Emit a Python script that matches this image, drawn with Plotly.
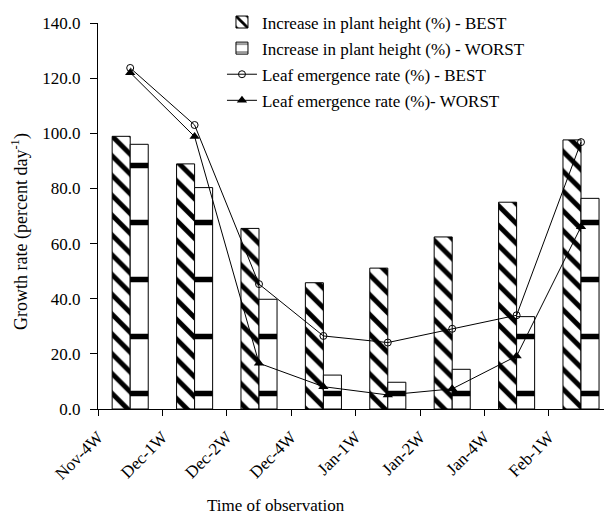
import plotly.graph_objects as go

categories = ["Nov-4W", "Dec-1W", "Dec-2W", "Dec-4W", "Jan-1W", "Jan-2W", "Jan-4W", "Feb-1W"]
height_best = [98.9, 88.9, 65.5, 45.8, 51.1, 62.4, 75.0, 97.6]
height_worst = [96.0, 80.3, 39.8, 12.3, 9.7, 14.4, 33.5, 76.4]
leaf_best = [123.7, 103.0, 45.3, 26.5, 24.1, 29.1, 34.0, 96.8]
leaf_worst = [122.0, 98.8, 16.6, 8.1, 5.1, 7.3, 19.2, 66.1]
y_ticks = [0, 20, 40, 60, 80, 100, 120, 140]

xpos = list(range(len(categories)))
FONT = "Liberation Serif, Times New Roman, serif"

fig = go.Figure()
fig.add_trace(go.Bar(
    x=xpos, y=height_best, name="Increase in plant height (%) - BEST",
    marker=dict(color="white", line=dict(color="black", width=1),
                pattern=dict(shape="\\", fgcolor="black", fgopacity=1, bgcolor="white",
                             size=14, solidity=0.35)),
    legendgroup="a",
))
fig.add_trace(go.Bar(
    x=xpos, y=height_worst, name="Increase in plant height (%) - WORST",
    marker=dict(color="white", line=dict(color="black", width=1),
                pattern=dict(shape="-", fgcolor="black", fgopacity=1, bgcolor="white",
                             size=57, solidity=0.1)),
    legendgroup="b",
))
fig.add_trace(go.Scatter(
    x=xpos, y=leaf_best, name="Leaf emergence rate (%) - BEST", xaxis="x2",
    mode="lines+markers", line=dict(color="black", width=1),
    marker=dict(symbol="circle-open", size=7, color="black", line=dict(width=1)),
    legendgroup="c",
))
fig.add_trace(go.Scatter(
    x=xpos, y=leaf_worst, name="Leaf emergence rate (%)- WORST", xaxis="x2",
    mode="lines+markers", line=dict(color="black", width=1),
    marker=dict(symbol="triangle-up", size=9, color="black"),
    legendgroup="d",
))

xr = [-0.5, 7.357]
fig.update_layout(
    width=604, height=516,
    margin=dict(l=98, r=0, t=23, b=107),
    paper_bgcolor="white", plot_bgcolor="white",
    font=dict(family=FONT, size=17, color="black"),
    barmode="group", bargap=0.44, bargroupgap=0,
    showlegend=True,
    legend=dict(x=0.245, y=1.048, xanchor="left", yanchor="top",
                bgcolor="rgba(0,0,0,0)", itemwidth=30, tracegroupgap=1,
                font=dict(family=FONT, size=17, color="black")),
    xaxis=dict(range=xr, tickvals=[i - 0.5 for i in xpos], showticklabels=False,
               ticks="outside", ticklen=6, tickcolor="black",
               showline=True, linecolor="black", linewidth=1, showgrid=False, zeroline=False),
    xaxis2=dict(range=xr, overlaying="x", anchor="y", side="bottom",
                tickvals=[i - 0.5 for i in xpos], ticktext=categories, tickangle=-45,
                ticks="", showline=False, showgrid=False, zeroline=False,
                ticklabelstandoff=14,
                tickfont=dict(family=FONT, size=17, color="black")),
    yaxis=dict(range=[0, 140], tickvals=y_ticks, tickformat=".1f",
               ticks="outside", ticklen=7, tickcolor="black", ticklabelstandoff=6,
               showline=True, linecolor="black", linewidth=1, showgrid=False, zeroline=False,
               tickfont=dict(family=FONT, size=17, color="black")),
    annotations=[
        dict(text="Time of observation", xref="paper", yref="paper",
             x=(276 - 98) / 506, y=-(505 - 409) / 386, xanchor="center", yanchor="middle",
             showarrow=False, font=dict(family=FONT, size=17, color="black")),
        dict(text="Growth rate (percent day<sup>-1</sup>)", xref="paper", yref="paper",
             x=-(98 - 20) / 506, y=(409 - 232) / 386, xanchor="center", yanchor="middle",
             textangle=-90, showarrow=False, font=dict(family=FONT, size=18, color="black")),
    ],
)

fig.write_html("out.html")
